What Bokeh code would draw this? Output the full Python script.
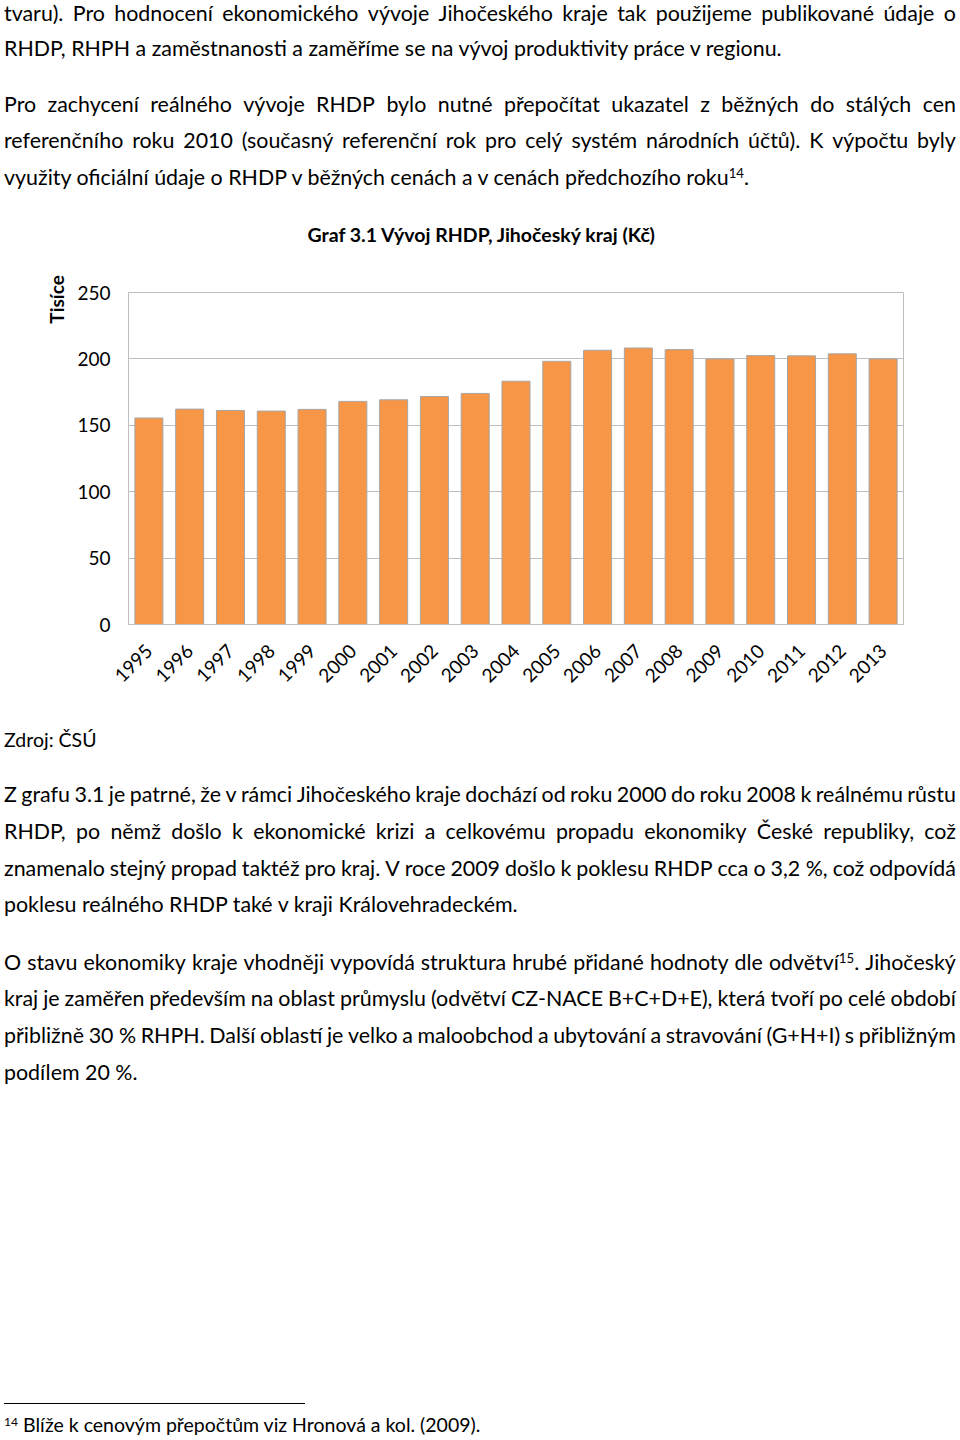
import math
from bokeh.plotting import figure
from bokeh.models import Range1d, FactorRange, FixedTicker, Div, ColumnDataSource, Title
from bokeh.layouts import column
from bokeh.embed import file_html
from bokeh.resources import INLINE

# ---------------- data ----------------
years = [str(y) for y in range(1995, 2014)]
rhdp_tisice = [155.5, 162.2, 161.2, 160.7, 162.0, 168.0, 169.2, 171.7, 174.0, 183.2,
               198.2, 206.5, 208.2, 207.0, 200.0, 202.5, 202.3, 203.8, 200.0]
y_ticks = [0, 50, 100, 150, 200, 250]

chart_title = "Graf 3.1 Vývoj RHDP, Jihočeský kraj (Kč)"
y_label = "Tisíce"
source_note = "Zdroj: ČSÚ"

# text lines: (text, justified?)
top_para1 = [
    ("tvaru). Pro hodnocení ekonomického vývoje Jihočeského kraje tak použijeme publikované údaje o", True),
    ("RHDP, RHPH a zaměstnanosti a zaměříme se na vývoj produktivity práce v regionu.", False),
]
top_para2 = [
    ("Pro zachycení reálného vývoje RHDP bylo nutné přepočítat ukazatel z běžných do stálých cen", True),
    ("referenčního roku 2010 (současný referenční rok pro celý systém národních účtů). K výpočtu byly", True),
    ("využity oficiální údaje o RHDP v běžných cenách a v cenách předchozího roku<sup>14</sup>.", False),
]
bottom_para1 = [
    ("Z grafu 3.1 je patrné, že v rámci Jihočeského kraje dochází od roku 2000 do roku 2008 k reálnému růstu", True),
    ("RHDP, po němž došlo k ekonomické krizi a celkovému propadu ekonomiky České republiky, což", True),
    ("znamenalo stejný propad taktéž pro kraj. V roce 2009 došlo k poklesu RHDP cca o 3,2\u00a0%, což odpovídá", True),
    ("poklesu reálného RHDP také v kraji Královehradeckém.", False),
]
bottom_para2 = [
    ("O stavu ekonomiky kraje vhodněji vypovídá struktura hrubé přidané hodnoty dle odvětví<sup>15</sup>. Jihočeský", True),
    ("kraj je zaměřen především na oblast průmyslu (odvětví CZ-NACE B+C+D+E), která tvoří po celé období", True),
    ("přibližně 30\u00a0% RHPH. Další oblastí je velko a maloobchod a ubytování a stravování (G+H+I) s přibližným", True),
    ("podílem 20\u00a0%.", False),
]
footnote = "<sup>14</sup> Blíže k cenovým přepočtům viz Hronová a kol. (2009)."

# ---------------- text helpers ----------------
FONT = "Lato, Carlito, Calibri, sans-serif"
SUP = "<sup style='font-size:0.62em;vertical-align:0.5em;line-height:0'>"
FS, LH = 21.4, 26


def base_off(size, lh):
    return (lh - 1.2 * size) / 2 + 0.987 * size


def line_html(text, baseline, div_top, justified, size=FS, lh=LH):
    top = baseline - base_off(size, lh) - div_top
    common = (f"position:absolute;left:4px;width:952px;top:{top:.1f}px;height:{lh}px;"
              f"line-height:{lh}px;font-family:{FONT};font-size:{size}px;color:#000;white-space:nowrap;")
    if justified:
        words = [w.replace("<sup>", SUP) for w in text.split(" ")]
        spans = "".join(f"<span style='white-space:nowrap'>{w}</span>" for w in words)
        return (f"<div style='{common}display:flex;justify-content:space-between;"
                f"column-gap:4px'>{spans}</div>")
    return f"<div style='{common}'>{text.replace('<sup>', SUP)}</div>"


def block(lines, first_baseline, div_top, step=36.7):
    return "".join(line_html(t, first_baseline + i * step, div_top, j)
                   for i, (t, j) in enumerate(lines))


TOP_DIV_TOP, TOP_H = 0, 215
top_html = (f"<div style='position:relative;width:960px;height:{TOP_H}px'>"
            + line_html(top_para1[0][0], 21.6, TOP_DIV_TOP, top_para1[0][1])
            + line_html(top_para1[1][0], 56.0, TOP_DIV_TOP, top_para1[1][1])
            + block(top_para2, 111.8, TOP_DIV_TOP)
            + "</div>")

FIG_H = 500
BOT_DIV_TOP, BOT_H = TOP_H + FIG_H, 723
bot_html = (f"<div style='position:relative;width:960px;height:{BOT_H}px'>"
            + line_html(source_note, 747, BOT_DIV_TOP, False, size=19.5, lh=24)
            + block(bottom_para1, 802.5, BOT_DIV_TOP)
            + block(bottom_para2, 969.8, BOT_DIV_TOP)
            + f"<div style='position:absolute;left:4px;top:{1403 - BOT_DIV_TOP}px;width:301px;height:1px;background:#000'></div>"
            + line_html(footnote, 1432.5, BOT_DIV_TOP, False, size=19.5, lh=24)
            + "</div>")

div_top = Div(text=top_html, width=960, height=TOP_H, margin=(0, 0, 0, 0),
              styles={"overflow": "visible"})
div_bot = Div(text=bot_html, width=960, height=BOT_H, margin=(0, 0, 0, 0),
              styles={"overflow": "visible"})

# ---------------- chart ----------------
src = ColumnDataSource(data=dict(year=years, val=rhdp_tisice))

p = figure(width=960, height=FIG_H, x_range=FactorRange(factors=years), y_range=Range1d(0, 250),
           output_backend="svg", toolbar_location=None,
           min_border_left=128, min_border_right=57, min_border_top=76, min_border_bottom=91)
p.margin = (0, 0, 0, 0)

p.vbar(x="year", top="val", width=0.687, source=src,
       fill_color="#F79646", line_color="#A6A6A6", line_width=1)

GRID = "#BFBFBF"
# spacer panel (closest to the frame) pushes the chart title upward
p.add_layout(Title(text="\u00a0", text_font_size="26px", text_color="white"), "above")
p.add_layout(Title(text=chart_title, text_font="Lato", text_font_size="19.5px",
                   text_font_style="bold", text_color="#000000", align="left", offset=179),
             "above")

p.yaxis.ticker = FixedTicker(ticks=y_ticks)
for ax in (p.xaxis, p.yaxis):
    ax.axis_line_color = GRID
    ax.major_tick_line_color = None
    ax.minor_tick_line_color = None
    ax.major_tick_out = 0
    ax.major_tick_in = 0
    ax.major_label_text_font = "Lato"
    ax.major_label_text_font_size = "19px"
    ax.major_label_text_color = "#000000"
p.yaxis.major_label_standoff = 18
p.xaxis.major_label_orientation = math.pi / 4
p.xaxis.major_label_standoff = 23

p.yaxis.axis_label = y_label + "\u00a0\u00a0\u00a0"
p.yaxis.axis_label_text_font = "Lato"
p.yaxis.axis_label_text_font_size = "19px"
p.yaxis.axis_label_text_font_style = "bold"
p.yaxis.axis_label_text_color = "#000000"
p.yaxis.axis_label_standoff = 6
try:
    p.yaxis.axis_label_align = "end"
except Exception:
    pass

p.xgrid.grid_line_color = None
p.ygrid.grid_line_color = GRID
p.ygrid.grid_line_width = 1
p.outline_line_color = GRID
p.outline_line_width = 1
p.outline_line_alpha = 1.0
p.background_fill_color = "white"
p.border_fill_color = "white"

page = column(div_top, p, div_bot, spacing=0, margin=(0, 0, 0, 0))

open("out.html", "w").write(file_html(page, INLINE))
